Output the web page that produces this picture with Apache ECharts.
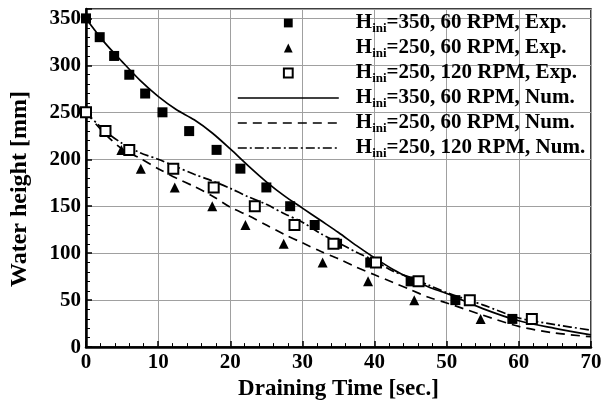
<!DOCTYPE html>
<html>
<head>
<meta charset="utf-8">
<script src="https://cdn.jsdelivr.net/npm/echarts@6/dist/echarts.min.js"></script>
<style>
  html, body { margin: 0; padding: 0; background: #fff; }
  #chart { width: 610px; height: 406px; }
</style>
</head>
<body>
<div id="chart"></div>
<script>
// experimental points
const exp350x = [0, 1.9, 3.9, 6.0, 8.2, 10.6, 14.3, 18.1, 21.4, 25.0, 28.3, 31.7, 34.8, 39.4, 45.0, 51.2, 59.1]
const exp350y = [350, 330, 310, 290, 270, 250, 230, 210, 190, 170, 150, 130, 110, 90, 70, 50, 30]
const exp250x = [2.5, 4.9, 7.6, 12.3, 17.5, 22.1, 27.4, 32.8, 39.1, 45.5, 54.7]
const exp250y = [230, 210, 190, 170, 150, 130, 110, 90, 70, 50, 30]
const exp120x = [0, 2.7, 6.0, 12.1, 17.7, 23.4, 28.9, 34.3, 40.2, 46.1, 53.2, 61.8]
const exp120y = [250, 230, 210, 190, 170, 150, 130, 110, 90, 70, 50, 30]

// numerical curves
const numTime = [0, 2.5, 5, 7.5, 10, 12.5, 15, 17.5, 20, 22.5, 25, 27.5, 30, 32.5, 35, 37.5, 40, 42.5, 45, 47.5, 50, 55, 60, 65, 70]
const num350 = [350, 325, 304, 284, 267, 253, 242, 228, 211, 193, 176, 161, 148, 135, 122, 108, 95, 83, 73, 64, 57, 41, 28, 20, 13]
const num250 = [250, 228, 211, 201, 190, 180, 171, 161, 149, 140, 130, 120, 111, 102, 94, 85, 77, 69, 61, 53, 47, 34, 22, 15, 11]
const num120 = [250, 231, 217, 207, 200, 192, 184, 177, 169, 160, 152, 142, 133, 121, 111, 101, 92, 81, 74, 66, 58, 45, 31, 24, 18]

const labels = [
  '=350, 60 RPM, Exp.',
  '=250, 60 RPM, Exp.',
  '=250, 120 RPM, Exp.',
  '=350, 60 RPM, Num.',
  '=250, 60 RPM, Num.',
  '=250, 120 RPM, Num.'
]

const font = 'Liberation Serif'
const dashed = [9, 6]
const dashDot = [9, 3, 2, 3]

function pairs(xs, ys) {
  return xs.map((x, i) => [x, ys[i]])
}

const chart = echarts.init(document.getElementById('chart'), null, { renderer: 'canvas' })

function expSeries(name, symbol, size, xs, ys) {
  return {
    name: name,
    type: 'line',
    symbol: symbol,
    symbolSize: size,
    showSymbol: true,
    showAllSymbol: true,
    lineStyle: { width: 0 },
    itemStyle: { color: '#000', borderWidth: symbol === 'emptyRect' ? 1.6 : 0 },
    z: 5,
    data: pairs(xs, ys)
  }
}

function numSeries(name, type, ys) {
  return {
    name: name,
    type: 'line',
    symbol: 'none',
    smooth: 0.3,
    lineStyle: { color: '#000', width: 1.7, type: type },
    itemStyle: { color: '#000' },
    z: 3,
    data: pairs(numTime, ys)
  }
}

chart.setOption({
  animation: false,
  grid: {
    left: 86,
    right: 19,
    top: 9,
    bottom: 50,
    show: true,
    borderColor: '#000',
    borderWidth: 1.5,
    backgroundColor: 'transparent'
  },
  legend: {
    orient: 'vertical',
    left: 237,
    top: 11,
    padding: 0,
    itemWidth: 101,
    itemHeight: 11,
    itemGap: 1,
    selectedMode: false,
    formatter: function (name) {
      return '{b|H}{s|ini}{b|' + name + '}'
    },
    textStyle: {
      padding: [0, 0, 0, 12],
      rich: {
        b: { fontFamily: font, fontWeight: 'bold', fontSize: 21, lineHeight: 24, color: '#000' },
        s: { fontFamily: font, fontWeight: 'bold', fontSize: 13, lineHeight: 13, padding: [11, 0, 0, 0], color: '#000' }
      }
    },
    data: [
      { name: labels[0], itemStyle: { opacity: 1 } },
      { name: labels[1], itemStyle: { opacity: 1 } },
      { name: labels[2], itemStyle: { opacity: 1 } },
      { name: labels[3], itemStyle: { opacity: 0 }, lineStyle: { width: 1.6, type: 'solid' } },
      { name: labels[4], itemStyle: { opacity: 0 }, lineStyle: { width: 1.6, type: dashed } },
      { name: labels[5], itemStyle: { opacity: 0 }, lineStyle: { width: 1.6, type: dashDot } }
    ]
  },
  xAxis: {
    type: 'value',
    min: 0,
    max: 70,
    interval: 10,
    name: 'Draining Time [sec.]',
    nameLocation: 'middle',
    nameGap: 21,
    nameTextStyle: { fontFamily: font, fontWeight: 'bold', fontSize: 23, color: '#000' },
    axisLine: { lineStyle: { color: '#000', width: 2.5 } },
    axisTick: { inside: true, length: 6, lineStyle: { color: '#000', width: 1.5 } },
    minorTick: { show: true, splitNumber: 5, length: 4, lineStyle: { color: '#000', width: 1 } },
    splitLine: { show: true, lineStyle: { color: '#a0a0a0', width: 1 } },
    axisLabel: { fontFamily: font, fontWeight: 'bold', fontSize: 21, color: '#000', margin: 5 }
  },
  yAxis: {
    type: 'value',
    min: 0,
    max: 360,
    interval: 50,
    name: 'Water height [mm]',
    nameLocation: 'middle',
    nameGap: 54,
    nameTextStyle: { fontFamily: font, fontWeight: 'bold', fontSize: 24, color: '#000', padding: [0, 22, 0, 0] },
    axisLine: { lineStyle: { color: '#000', width: 2.5 } },
    axisTick: { inside: true, length: 6, lineStyle: { color: '#000', width: 1.5 } },
    minorTick: { show: true, splitNumber: 5, length: 4, lineStyle: { color: '#000', width: 1 } },
    splitLine: { show: true, lineStyle: { color: '#a0a0a0', width: 1 } },
    axisLabel: { fontFamily: font, fontWeight: 'bold', fontSize: 21, color: '#000', margin: 5, showMaxLabel: false }
  },
  series: [
    expSeries(labels[0], 'rect', 10, exp350x, exp350y),
    expSeries(labels[1], 'triangle', 10, exp250x, exp250y),
    expSeries(labels[2], 'emptyRect', 10, exp120x, exp120y),
    numSeries(labels[3], 'solid', num350),
    numSeries(labels[4], dashed, num250),
    numSeries(labels[5], dashDot, num120)
  ]
})
</script>
</body>
</html>
